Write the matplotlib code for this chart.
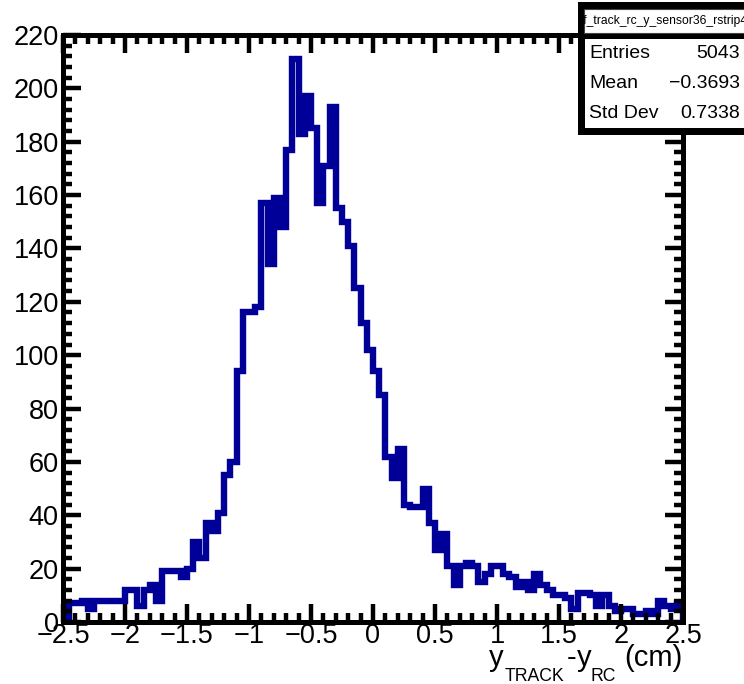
import numpy as np
import matplotlib
matplotlib.use("Agg")
import matplotlib.pyplot as plt
from matplotlib.patches import Rectangle
from matplotlib.ticker import MultipleLocator, FixedLocator

plt.rcParams['font.family'] = ['Liberation Sans', 'DejaVu Sans']

# Histogram of y_TRACK - y_RC: 100 bins over [-2.5, 2.5]
x_low, x_high, n_bins = -2.5, 2.5, 100
counts = [
    2, 7, 7, 8, 5, 8, 8, 8, 8, 8,
    12, 12, 6, 12, 14, 8, 19, 19, 19, 17,
    20, 30, 24, 37, 34, 41, 55, 60, 94, 116,
    116, 118, 157, 134, 159, 148, 177, 211, 183, 197,
    185, 157, 171, 193, 155, 150, 141, 125, 112, 102,
    94, 85, 62, 54, 65, 44, 43, 43, 50, 37,
    27, 33, 21, 14, 21, 22, 21, 15, 18, 21,
    21, 18, 17, 13, 15, 12, 18, 14, 12, 10,
    10, 9, 5, 11, 11, 10, 6, 10, 6, 4,
    5, 5, 3, 3, 4, 3, 8, 6, 5, 7,
]
x_ticks = [-2.5, -2, -1.5, -1, -0.5, 0, 0.5, 1, 1.5, 2, 2.5]
x_tick_labels = ['\u22122.5', '\u22122', '\u22121.5', '\u22121', '\u22120.5',
                 '0', '0.5', '1', '1.5', '2', '2.5']
y_ticks = list(range(0, 221, 20))

hist_name = 'rf_track_rc_y_sensor36_rstrip4'
stat_names = ['Entries', 'Mean', 'Std Dev']
stat_values = ['5043', '\u22120.3693', '0.7338']

W, H = 744, 684
fig = plt.figure(figsize=(W / 100, H / 100), dpi=100)
fig.patch.set_facecolor('white')


def fx(px):
    return px / W


def fy(py):
    return 1 - py / H


ax = fig.add_axes([fx(63), fy(622), fx(683) - fx(63), fy(35) - fy(622)])
edges = np.linspace(x_low, x_high, n_bins + 1)
ax.stairs(counts, edges, color='#000099', linewidth=4.6, joinstyle='miter',
          zorder=1)

ax.set_xlim(x_low, x_high)
ax.set_ylim(0, 220)
ax.xaxis.set_major_locator(FixedLocator(x_ticks))
ax.set_xticklabels(x_tick_labels)
ax.xaxis.set_minor_locator(MultipleLocator(0.1))
ax.yaxis.set_major_locator(FixedLocator(y_ticks))
ax.yaxis.set_minor_locator(MultipleLocator(4))

for s in ax.spines.values():
    s.set_linewidth(3.6)
    s.set_zorder(3)
ax.tick_params(which='both', direction='in', top=True, right=True,
               width=3.2, color='black', zorder=3)
ax.tick_params(which='major', length=13)
ax.tick_params(which='minor', length=6.5)
ax.tick_params(axis='x', which='major', labelsize=19.5, pad=1)
ax.tick_params(axis='y', which='major', labelsize=19.5, pad=3)

# Axis title y_TRACK - y_RC (cm), built from main and subscript pieces
main_fs, sub_fs = 21, 12.7
base_main, base_sub = 666, 681
fig.text(fx(504), fy(base_main), 'y', ha='right', va='baseline',
         fontsize=main_fs)
fig.text(fx(505), fy(base_sub), 'TRACK', ha='left', va='baseline',
         fontsize=sub_fs)
fig.text(fx(572), fy(base_main), '-', ha='center', va='baseline',
         fontsize=main_fs)
fig.text(fx(577), fy(base_main), 'y', ha='left', va='baseline',
         fontsize=main_fs)
fig.text(fx(591), fy(base_sub), 'RC', ha='left', va='baseline',
         fontsize=sub_fs)
fig.text(fx(683), fy(base_main), '(cm)', ha='right', va='baseline',
         fontsize=main_fs)

# Statistics box in the top right corner
fig.patches.append(Rectangle((fx(578), fy(135)), fx(W + 10) - fx(578),
                             fy(2) - fy(135), transform=fig.transFigure,
                             facecolor='black', edgecolor='none', zorder=5))
title_box = Rectangle((fx(584), fy(33)), fx(W + 10) - fx(584), fy(9) - fy(33),
                      transform=fig.transFigure, facecolor='white',
                      edgecolor='#444444', linewidth=0.8, zorder=6)
fig.patches.append(title_box)
fig.patches.append(Rectangle((fx(585), fy(128)), fx(W + 10) - fx(585),
                             fy(39) - fy(128), transform=fig.transFigure,
                             facecolor='white', edgecolor='none', zorder=6))
t = fig.text(fx(579), fy(21), hist_name, ha='left', va='center',
             fontsize=8.7, zorder=7)
t.set_clip_path(title_box)

row_y = [53, 83, 113]
for name, val, yy in zip(stat_names, stat_values, row_y):
    fig.text(fx(589), fy(yy), name, ha='left', va='center', fontsize=14,
             zorder=7)
    fig.text(fx(740), fy(yy), val, ha='right', va='center', fontsize=14,
             zorder=7)

fig.savefig('out.png', dpi=100)
